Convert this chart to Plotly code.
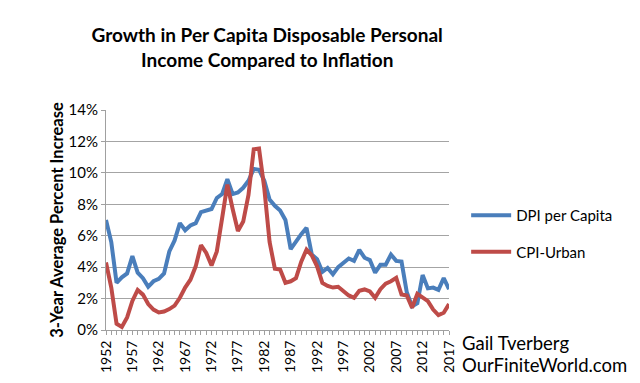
import plotly.graph_objects as go

years = list(range(1952, 2018))

dpi_per_capita = [
    7.0, 5.6, 3.0, 3.35, 3.6, 4.7, 3.65, 3.3, 2.75, 3.1,
    3.25, 3.6, 5.0, 5.7, 6.8, 6.35, 6.65, 6.8, 7.5, 7.6,
    7.7, 8.4, 8.65, 9.6, 8.65, 8.75, 9.05, 9.5, 10.25, 10.2,
    9.5, 8.3, 7.9, 7.6, 7.0, 5.15, 5.65, 6.1, 6.5, 4.8,
    4.5, 3.7, 3.95, 3.55, 4.0, 4.3, 4.55, 4.4, 5.1, 4.6,
    4.45, 3.65, 4.15, 4.15, 4.8, 4.4, 4.35, 2.4, 1.5, 1.7,
    3.5, 2.65, 2.7, 2.55, 3.3, 2.6,
]

cpi_urban = [
    4.3, 2.7, 0.4, 0.2, 0.8, 1.85, 2.55, 2.25, 1.65, 1.3,
    1.12, 1.18, 1.33, 1.55, 2.05, 2.7, 3.2, 4.05, 5.4, 4.9,
    4.1, 5.0, 7.1, 9.25, 7.7, 6.3, 6.9, 8.6, 11.5, 11.55,
    9.0, 5.6, 3.9, 3.85, 3.0, 3.1, 3.3, 4.35, 5.12, 4.75,
    4.05, 3.0, 2.8, 2.7, 2.75, 2.45, 2.2, 2.05, 2.5, 2.58,
    2.45, 2.05, 2.6, 2.95, 3.1, 3.32, 2.26, 2.2, 1.42, 2.3,
    2.1, 1.84, 1.3, 0.95, 1.1, 1.65,
]

x_tick_years = list(range(1952, 2018, 5))
y_tick_values = [0, 2, 4, 6, 8, 10, 12, 14]
y_tick_labels = [f"{v}%" for v in y_tick_values]

FONT = "Lato"

fig = go.Figure()
fig.add_trace(go.Scatter(
    x=years, y=dpi_per_capita, mode="lines", name="DPI per Capita",
    line=dict(color="#4A7EBB", width=4), legendgroup="a",
))
fig.add_trace(go.Scatter(
    x=years, y=cpi_urban, mode="lines", name="CPI-Urban",
    line=dict(color="#BE4B48", width=4), legendgroup="b",
))

fig.update_layout(
    width=640, height=383,
    margin=dict(l=98, r=199, t=102, b=61),
    paper_bgcolor="white", plot_bgcolor="white",
    font=dict(family=FONT, color="black"),
    title=dict(
        text="Growth in Per Capita Disposable Personal<br>Income Compared to Inflation",
        font=dict(family=FONT, size=19, color="black", weight="bold"),
        xref="container", x=0.405, xanchor="center", y=0.91, yanchor="top",
    ),
    showlegend=True,
    legend=dict(
        x=1.05, xanchor="left", y=0.595, yanchor="top",
        font=dict(family=FONT, size=15, color="black"),
        traceorder="grouped", tracegroupgap=14,
        bgcolor="rgba(0,0,0,0)", itemwidth=40,
    ),
    xaxis=dict(
        range=[1952, 2017],
        tickmode="array", tickvals=x_tick_years,
        ticktext=[str(y) for y in x_tick_years],
        tickangle=-90,
        tickfont=dict(family=FONT, size=14, color="black"),
        showgrid=False, zeroline=False,
        showline=True, linecolor="#A0A0A0", linewidth=1,
        ticks="outside", ticklen=4, tickcolor="#A0A0A0",
        minor=dict(dtick=1, tick0=1952, ticks="outside", ticklen=4, tickcolor="#A0A0A0", showgrid=False),
    ),
    yaxis=dict(
        range=[0, 14],
        tickmode="array", tickvals=y_tick_values, ticktext=y_tick_labels,
        tickfont=dict(family=FONT, size=15, color="black"),
        showgrid=True, gridcolor="#A4A4A4", gridwidth=1.3,
        zeroline=False,
        showline=True, linecolor="#A0A0A0", linewidth=1,
        ticks="outside", ticklen=4, tickcolor="#A0A0A0",
        title=dict(text="<b>3-Year Average Percent Increase</b>",
                   font=dict(family=FONT, size=16.5, color="black"), standoff=0),
    ),
    annotations=[
        dict(text="Gail Tverberg", xref="paper", yref="paper",
             x=1.033, y=-0.058, xanchor="left", yanchor="middle", showarrow=False,
             font=dict(family=FONT, size=18.5, color="black")),
        dict(text="OurFiniteWorld.com", xref="paper", yref="paper",
             x=1.033, y=-0.158, xanchor="left", yanchor="middle", showarrow=False,
             font=dict(family=FONT, size=18.5, color="black")),
    ],
    shapes=[
        dict(type="line", xref="paper", yref="paper", x0=1.5715, x1=1.5715,
             y0=-0.3, y1=1.47, line=dict(color="#D0D0D0", width=1)),
    ],
)

fig.write_html("out.html")
